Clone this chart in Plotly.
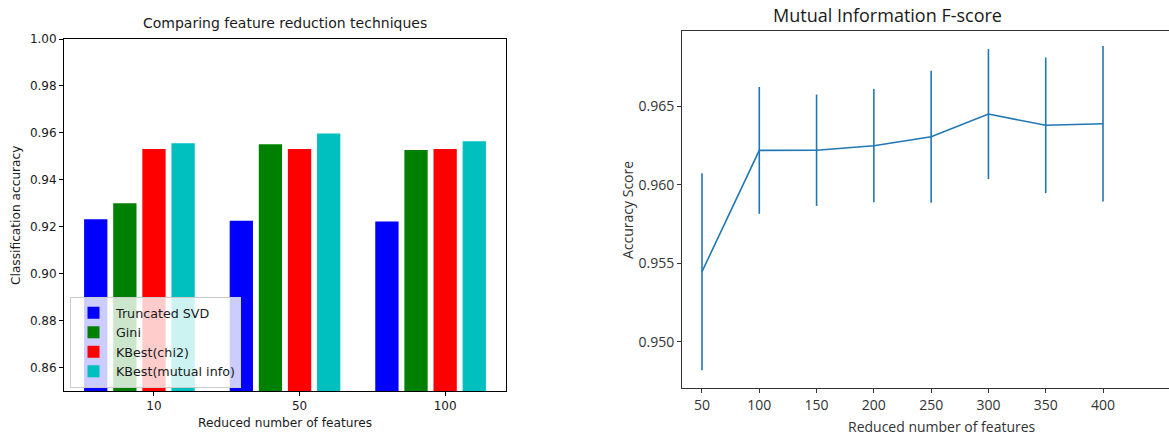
import plotly.graph_objects as go

# ---- Left panel: accuracy per feature-reduction technique ----
groups = ["10", "50", "100"]
techniques = ["Truncated SVD", "Gini", "KBest(chi2)", "KBest(mutual info)"]
tech_colors = ["#0000ff", "#008000", "#ff0000", "#00bfbf"]
accuracy = {
    "Truncated SVD": [0.9232, 0.9226, 0.9222],
    "Gini": [0.9300, 0.9551, 0.9527],
    "KBest(chi2)": [0.9531, 0.9531, 0.9531],
    "KBest(mutual info)": [0.9556, 0.9597, 0.9564],
}
left_yticks = [0.86, 0.88, 0.90, 0.92, 0.94, 0.96, 0.98, 1.00]

# ---- Right panel: mutual information score vs number of features ----
n_features = [50, 100, 150, 200, 250, 300, 350, 400]
mi_mean = [0.95446, 0.96219, 0.96220, 0.96249, 0.96306, 0.96451, 0.96379, 0.96389]
mi_err = [0.00628, 0.00404, 0.00355, 0.00361, 0.00421, 0.00414, 0.00432, 0.00495]
right_yticks = [0.950, 0.955, 0.960, 0.965]

W, H = 1169, 435


def px_x(p):
    return p / W


def px_y(p):
    return 1 - p / H


fig = go.Figure()

offsets = [-0.4, -0.2, 0.0, 0.2]
for i, name in enumerate(techniques):
    fig.add_trace(go.Bar(
        x=[g + offsets[i] for g in range(len(groups))],
        y=accuracy[name],
        width=0.16,
        name=name,
        marker=dict(color=tech_colors[i], line=dict(width=0)),
        xaxis="x", yaxis="y",
    ))

fig.add_trace(go.Scatter(
    x=n_features, y=mi_mean,
    mode="lines",
    line=dict(color="#1f77b4", width=1.6),
    error_y=dict(type="data", array=mi_err, visible=True,
                 thickness=1.6, width=0, color="#1f77b4"),
    showlegend=False,
    xaxis="x2", yaxis="y2",
))

dv = "DejaVu Sans"
os_font = "Open Sans"

fig.update_layout(
    width=W, height=H,
    autosize=False,
    margin=dict(l=0, r=0, t=0, b=0, pad=0, autoexpand=False),
    paper_bgcolor="white", plot_bgcolor="white",
    barmode="overlay",
    showlegend=True,
    legend=dict(
        x=px_x(70), y=px_y(297), xanchor="left", yanchor="top",
        bgcolor="rgba(255,255,255,0.8)", bordercolor="#cccccc", borderwidth=1,
        font=dict(family=dv, size=12.7, color="#1a1a1a"),
        tracegroupgap=0, itemwidth=35,
    ),
    xaxis=dict(
        domain=[px_x(64), px_x(506)], anchor="y", automargin=False,
        range=[-0.618, 2.418],
        tickvals=list(range(len(groups))), ticktext=groups,
        showgrid=False, zeroline=False,
        showline=True, linecolor="black", linewidth=1, mirror=True,
        ticks="outside", ticklen=4, tickcolor="black",
        tickfont=dict(family=dv, size=12, color="#1a1a1a"),
    ),
    yaxis=dict(
        domain=[px_y(391), px_y(39)], anchor="x", automargin=False,
        range=[0.85, 1.0],
        tickvals=left_yticks, tickformat=".2f",
        showgrid=False, zeroline=False,
        showline=True, linecolor="black", linewidth=1, mirror=True,
        ticks="outside", ticklen=4, tickcolor="black",
        tickfont=dict(family=dv, size=12, color="#1a1a1a"),
    ),
    xaxis2=dict(
        domain=[px_x(682), 1.0], anchor="y2", automargin=False,
        range=[32.55, 457.6],
        tickvals=n_features,
        showgrid=False, zeroline=False,
        showline=True, linecolor="#333333", linewidth=1, mirror=True,
        ticks="outside", ticklen=4, tickcolor="#333333",
        tickfont=dict(family=os_font, size=14, color="#333333"),
    ),
    yaxis2=dict(
        domain=[px_y(388), px_y(31)], anchor="x2", automargin=False,
        range=[0.94705, 0.9698],
        tickvals=right_yticks, tickformat=".3f",
        showgrid=False, zeroline=False,
        showline=True, linecolor="#333333", linewidth=1, mirror=False,
        ticks="outside", ticklen=4, tickcolor="#333333",
        tickfont=dict(family=os_font, size=14, color="#333333"),
    ),
    annotations=[
        dict(text="Comparing feature reduction techniques", x=px_x(285), y=px_y(23),
             xref="paper", yref="paper", showarrow=False, xanchor="center", yanchor="middle",
             font=dict(family=dv, size=14, color="#1a1a1a")),
        dict(text="Reduced number of features", x=px_x(285), y=px_y(423),
             xref="paper", yref="paper", showarrow=False, xanchor="center", yanchor="middle",
             font=dict(family=dv, size=12.2, color="#1a1a1a")),
        dict(text="Classification accuracy", x=px_x(16), y=px_y(215),
             xref="paper", yref="paper", showarrow=False, xanchor="center", yanchor="middle",
             textangle=-90, font=dict(family=dv, size=12.2, color="#1a1a1a")),
        dict(text="Mutual Information F-score", x=px_x(887), y=px_y(15),
             xref="paper", yref="paper", showarrow=False, xanchor="center", yanchor="middle",
             font=dict(family=os_font, size=18, color="#1a1a1a")),
        dict(text="Reduced number of features", x=px_x(942), y=px_y(426),
             xref="paper", yref="paper", showarrow=False, xanchor="center", yanchor="middle",
             font=dict(family=os_font, size=14, color="#333333")),
        dict(text="Accuracy Score", x=px_x(627), y=px_y(210),
             xref="paper", yref="paper", showarrow=False, xanchor="center", yanchor="middle",
             textangle=-90, font=dict(family=os_font, size=14, color="#333333")),
    ],
)

fig.write_html("out.html")
